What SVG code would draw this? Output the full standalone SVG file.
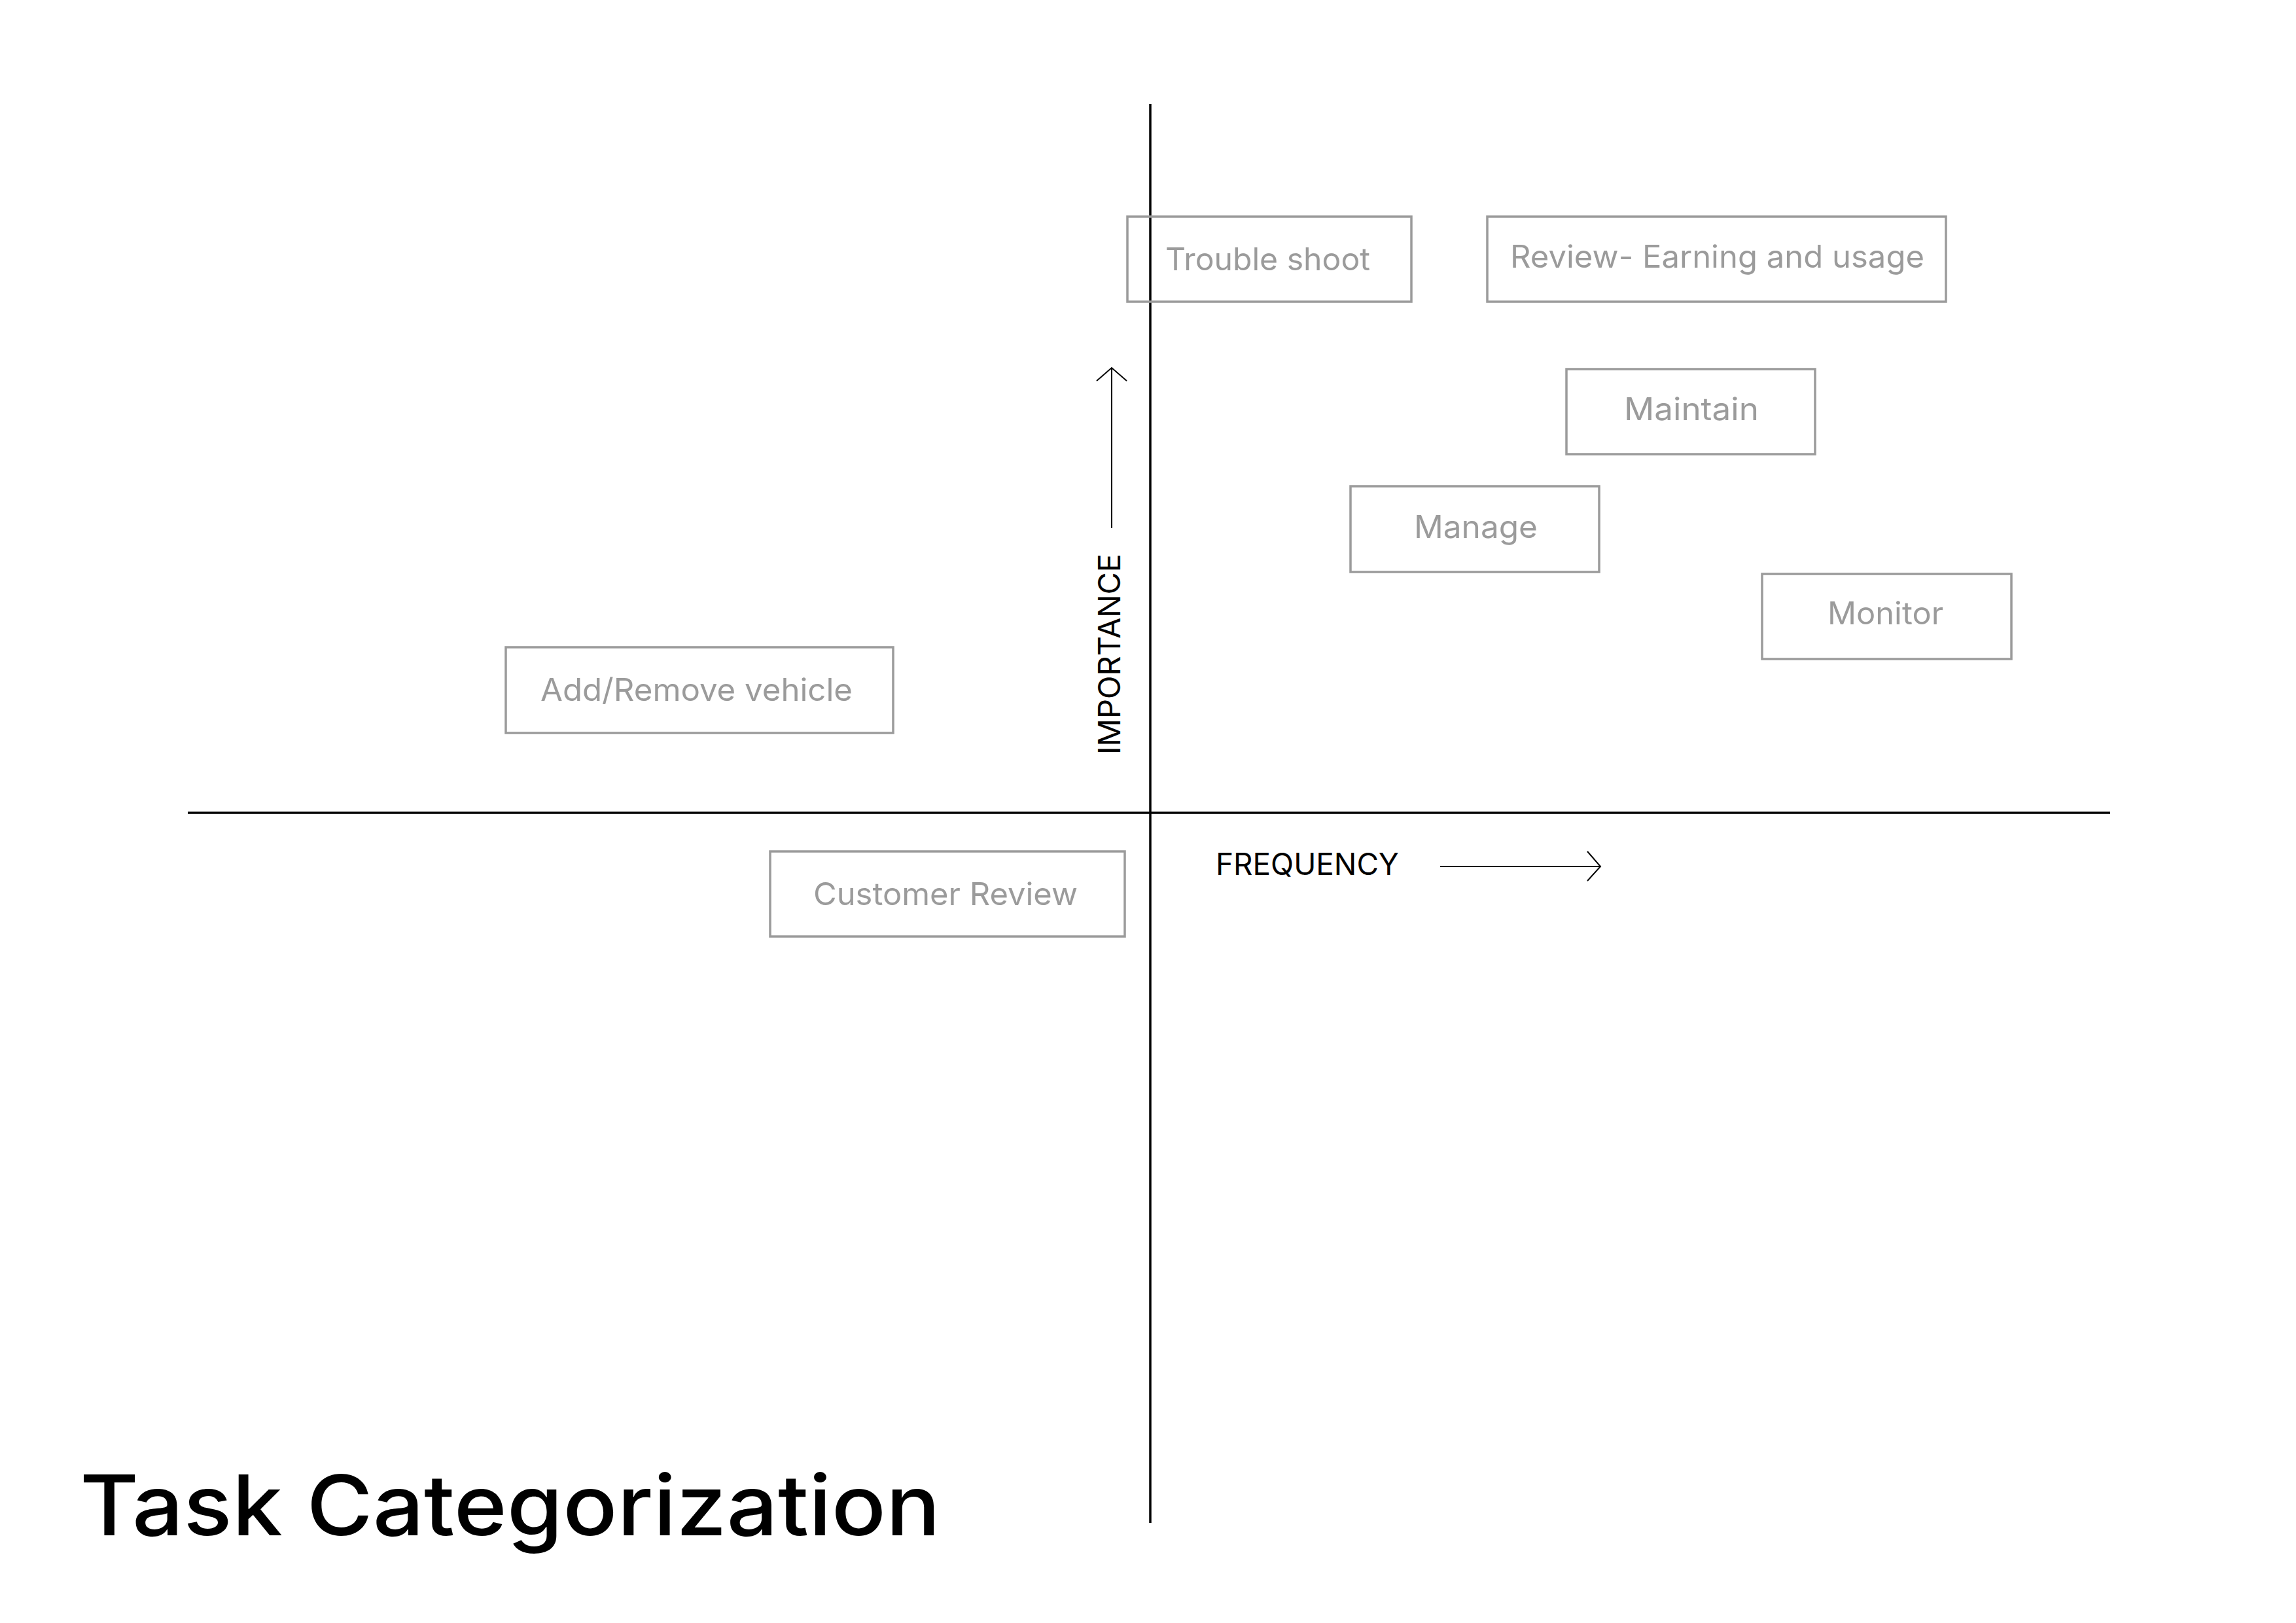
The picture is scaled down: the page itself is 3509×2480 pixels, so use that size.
<svg xmlns="http://www.w3.org/2000/svg" width="3509" height="2480" viewBox="0 0 3509 2480">
<style>
.box{fill:none;stroke:#9b9b9b;stroke-width:3.5}
.lbl{font-family:Inter,"Liberation Sans",sans-serif;font-size:48px;fill:#9b9b9b}
.axis{stroke:#000;stroke-width:3.5;fill:none}
.arr{stroke:#000;stroke-width:2;fill:none}
.ax{font-family:Inter,"Liberation Sans",sans-serif;font-size:46px;fill:#000}
.title{font-family:Inter,"Liberation Sans",sans-serif;font-size:128px;font-weight:500;fill:#000}
</style>
<rect width="3509" height="2480" fill="#fff"/>
<g id="connectors">
<line class="axis" x1="1758" y1="159" x2="1758" y2="2327"/>
<line class="axis" x1="287" y1="1242" x2="3225" y2="1242"/>
<line class="arr" x1="1699" y1="807" x2="1699" y2="562"/>
<polyline class="arr" points="1676,582 1699,562 1722,582"/>
<line class="arr" x1="2201" y1="1324" x2="2446" y2="1324"/>
<polyline class="arr" points="2426,1301 2446,1324 2426,1346"/>
</g>
<g id="axis-labels">
<text class="ax" x="1858" y="1337" textLength="280" lengthAdjust="spacingAndGlyphs">FREQUENCY</text>
<text class="ax" transform="translate(1712,1153) rotate(-90)" x="0" y="0" textLength="307" lengthAdjust="spacingAndGlyphs">IMPORTANCE</text>
</g>
<g id="trouble-shoot">
<rect class="box" x="1723" y="331" width="434" height="130"/>
<text class="lbl" x="1781" y="413" textLength="313" lengthAdjust="spacingAndGlyphs">Trouble shoot</text>
</g>
<g id="review-earning">
<rect class="box" x="2273" y="331" width="701" height="130"/>
<text class="lbl" x="2308" y="409" textLength="633" lengthAdjust="spacingAndGlyphs">Review- Earning and usage</text>
</g>
<g id="maintain">
<rect class="box" x="2394" y="564" width="380" height="130"/>
<text class="lbl" x="2482" y="642" textLength="206" lengthAdjust="spacingAndGlyphs">Maintain</text>
</g>
<g id="manage">
<rect class="box" x="2064" y="743" width="380" height="131"/>
<text class="lbl" x="2161" y="822" textLength="189" lengthAdjust="spacingAndGlyphs">Manage</text>
</g>
<g id="monitor">
<rect class="box" x="2693" y="877" width="381" height="130"/>
<text class="lbl" x="2793" y="954" textLength="177" lengthAdjust="spacingAndGlyphs">Monitor</text>
</g>
<g id="add-remove-vehicle">
<rect class="box" x="773" y="989" width="592" height="131"/>
<text class="lbl" x="826" y="1071" textLength="477" lengthAdjust="spacingAndGlyphs">Add/Remove vehicle</text>
</g>
<g id="customer-review">
<rect class="box" x="1177" y="1301" width="542" height="130"/>
<text class="lbl" x="1243" y="1383" textLength="404" lengthAdjust="spacingAndGlyphs">Customer Review</text>
</g>
<g id="title">
<text class="title" x="122" y="2346" textLength="1315" lengthAdjust="spacingAndGlyphs">Task Categorization</text>
</g>
</svg>
